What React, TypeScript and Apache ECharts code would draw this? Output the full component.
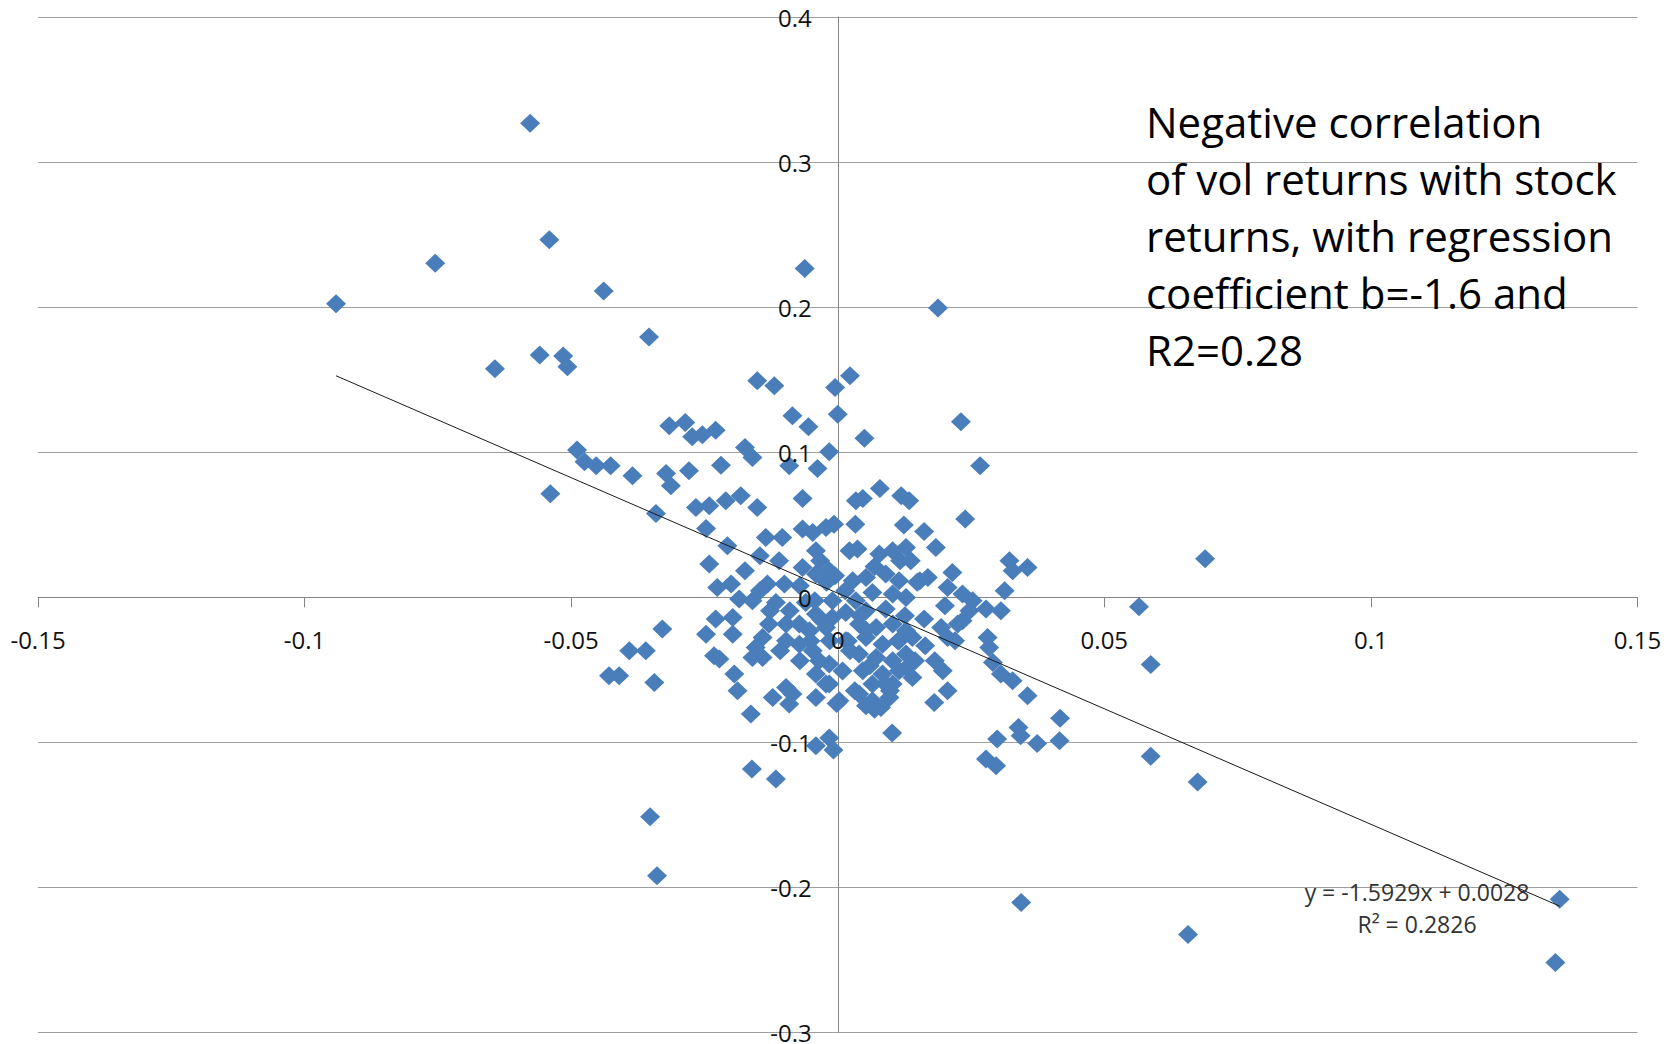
import React, { useEffect, useRef } from "react";
import * as echarts from "echarts";

// Axis ticks
const xTicks = [-0.15, -0.1, -0.05, 0, 0.05, 0.1, 0.15];
const yTicks = [-0.3, -0.2, -0.1, 0, 0.1, 0.2, 0.3, 0.4];

// Regression line (from the chart's trendline label)
const SLOPE = -1.5929;
const INTERCEPT = 0.0028;
const R2 = 0.2826;

// [stock return, vol return]
const upperOutliers: number[][] = [
  [-0.0577, 0.3267], [-0.0755, 0.2303], [-0.0941, 0.2024], [-0.0541, 0.2465],
  [-0.0439, 0.2112], [-0.0062, 0.2266], [0.0188, 0.1994], [-0.0354, 0.1795],
  [-0.0559, 0.167], [-0.0515, 0.1663], [-0.0507, 0.1589], [-0.0643, 0.1575],
];

const upperCluster: number[][] = [
  [-0.0151, 0.1492], [-0.0119, 0.1458], [-0.0005, 0.1446], [0.0023, 0.1527],
  [0.0, 0.1262], [-0.0085, 0.1251], [-0.0055, 0.1175], [0.005, 0.1097],
  [0.0231, 0.121], [0.0267, 0.0906], [-0.0016, 0.1003], [-0.0038, 0.0888],
  [-0.0091, 0.0906], [-0.0174, 0.1032], [-0.016, 0.0964], [-0.0316, 0.1182],
  [-0.0286, 0.1205], [-0.0273, 0.1106], [-0.0254, 0.112], [-0.0229, 0.1152],
  [-0.0219, 0.0911], [-0.0279, 0.0872], [-0.0322, 0.0853], [-0.0313, 0.0768],
  [-0.0385, 0.0837], [-0.0426, 0.0906], [-0.0453, 0.0906], [-0.0475, 0.0934],
  [-0.0489, 0.1015], [-0.0539, 0.0714], [-0.0341, 0.0578], [-0.0182, 0.07],
  [-0.021, 0.0665], [-0.0266, 0.0619], [-0.0241, 0.0631], [-0.0151, 0.0619],
  [-0.0066, 0.0681], [-0.0247, 0.0474], [0.0034, 0.0665], [0.0047, 0.0681],
  [0.0079, 0.075], [0.0119, 0.07], [0.0134, 0.0665], [0.0239, 0.0539],
  [0.0033, 0.0504], [0.0124, 0.0498], [0.0162, 0.0454], [-0.0007, 0.0504],
  [-0.0066, 0.047], [-0.0047, 0.0447], [-0.0022, 0.0481], [-0.0135, 0.0412],
  [-0.0104, 0.0412],
];

const coreCluster: number[][] = [
  [-0.0241, 0.0229], [-0.0207, 0.0355], [-0.0226, 0.0068], [-0.02, 0.0091],
  [-0.0185, -0.0012], [-0.016, -0.0024], [-0.0132, 0.0091], [-0.0116, -0.0036],
  [-0.01, 0.0091], [-0.011, 0.0252], [-0.0041, 0.032], [-0.0066, 0.0205],
  [-0.0041, 0.016], [-0.0016, 0.0183], [-0.006, -0.0036], [-0.0041, -0.0116],
  [-0.001, -0.0024], [-0.001, -0.0139], [-0.0022, -0.0208], [0.0022, 0.032],
  [0.0037, 0.0332], [0.0028, 0.0114], [0.0053, 0.0137], [0.0078, 0.0298],
  [0.0103, 0.032], [0.0128, 0.0343], [0.0137, 0.0252], [0.009, 0.016],
  [0.0115, 0.0114], [0.0103, 0.0022], [0.0128, -0.0001], [0.0065, 0.0033],
  [0.0034, -0.0024], [0.009, -0.0081], [0.0053, -0.0093], [0.0015, -0.0105],
  [0.004, -0.0185], [0.0072, -0.0208], [0.0103, -0.0185], [0.0128, -0.0231],
  [0.0015, -0.03], [0.0053, -0.0277], [0.0084, -0.0323], [0.0115, -0.03],
  [0.004, -0.0391], [0.0072, -0.0415], [0.0103, -0.0438], [0.0128, -0.0391],
  [0.014, -0.0277], [0.0047, -0.0507], [0.0084, -0.0529], [0.0115, -0.0507],
  [0.014, -0.0553], [0.0065, -0.0598], [0.0103, -0.0598], [0.004, -0.0667],
  [0.0065, -0.0713], [0.0097, -0.0691], [0.0003, -0.0713], [-0.0022, -0.0598],
  [-0.0041, -0.0529], [-0.0035, -0.0438], [-0.0047, -0.0369], [-0.0016, -0.046],
  [-0.0072, -0.0323], [-0.0097, -0.03], [-0.0097, -0.0185], [-0.0072, -0.0185],
  [-0.0053, -0.0231], [-0.0129, -0.0185], [-0.0141, -0.0277], [-0.0154, -0.0346],
  [-0.016, -0.0415], [-0.0141, -0.0415], [-0.0197, -0.0139], [-0.0197, -0.0254],
  [-0.0229, -0.015], [-0.0247, -0.0254], [-0.0232, -0.0403], [-0.0222, -0.0426],
  [-0.0329, -0.0219], [-0.0391, -0.0369], [-0.036, -0.0369], [-0.0429, -0.0541],
  [-0.041, -0.0541], [-0.0344, -0.0587], [-0.0194, -0.0529], [-0.0188, -0.0644],
  [-0.0122, -0.0691], [-0.0097, -0.0622], [-0.0085, -0.0667], [-0.0041, -0.0691],
  [-0.0016, -0.0598], [0.0184, 0.0343], [0.0169, 0.0137], [0.0215, 0.0171],
  [0.0206, 0.0068], [0.0234, 0.0022], [0.0253, -0.0024], [0.0247, -0.0093],
  [0.0234, -0.0162], [0.0225, -0.0185], [0.0162, -0.015], [0.0194, -0.0208],
  [0.0206, -0.0277], [0.0197, -0.0507], [0.0206, -0.0644], [0.0181, -0.0725],
  [0.0278, -0.0081], [0.0306, -0.0093], [0.0313, 0.0045], [0.0322, 0.0252],
  [0.0328, 0.0183], [0.0356, 0.0205], [0.0281, -0.0277], [0.0284, -0.0346],
  [0.0291, -0.0449], [0.0306, -0.0529], [0.0328, -0.0575], [0.0356, -0.0679],
];

const coreFill: number[][] = [
  [0.0014, 0.0045], [0.0042, -0.0128], [0.006, -0.0472], [0.0023, -0.0369],
  [-0.0015, -0.03], [-0.0043, -0.0024], [-0.0071, 0.0079], [-0.009, -0.0093],
  [0.0126, -0.0128], [0.0145, -0.0438], [0.0164, -0.0334], [0.0182, -0.0438],
  [0.0098, -0.0645], [0.0032, -0.0645], [-0.0071, -0.0438], [-0.0108, -0.0369],
  [-0.0127, -0.0093], [-0.0146, 0.0045], [-0.0174, 0.0183], [-0.0146, 0.0286],
  [-0.0033, 0.0252], [-0.0005, 0.0148], [0.0117, 0.0252], [0.0154, 0.0114],
  [0.0201, -0.0059], [0.022, -0.03],
  [-0.0031, -0.0155], [0.0019, -0.0302], [0.0009, -0.0508], [-0.0051, -0.0302],
  [0.0113, -0.0302], [0.0089, -0.0596], [0.0053, -0.0228], [0.0129, -0.0486],
  [-0.0021, 0.0103], [0.0069, 0.0213], [0.0149, 0.0103],
];

const lowerCluster: number[][] = [
  [-0.0163, -0.0805], [-0.0091, -0.0736], [-0.0002, -0.0732], [0.0053, -0.0748],
  [0.0069, -0.0771], [0.0081, -0.0759], [0.0102, -0.0936], [-0.0041, -0.1023],
  [-0.0016, -0.097], [-0.0008, -0.1053], [-0.0161, -0.1184], [-0.0116, -0.1253],
  [-0.0352, -0.1513], [-0.0339, -0.1919], [0.0299, -0.0977], [0.0278, -0.1115],
  [0.0297, -0.1161], [0.0339, -0.0897], [0.0343, -0.0955], [0.0374, -0.1008],
  [0.0416, -0.0989], [0.0417, -0.0833],
];

const rightOutliers: number[][] = [
  [0.0689, 0.0265], [0.0565, -0.0066], [0.0587, -0.0464], [0.0587, -0.1096],
  [0.0675, -0.1273], [0.0657, -0.2325], [0.0344, -0.2104], [0.1354, -0.2082],
  [0.1346, -0.2517],
];

const annotationLines = [
  "Negative correlation",
  "of vol returns with stock",
  "returns, with regression",
  "coefficient b=-1.6 and",
  "R2=0.28",
];

const FONT = "'Open Sans', 'Liberation Sans', sans-serif";

const W = 1673;
const H = 1044;
const GRID = { left: 38, right: 35.5, top: 17, bottom: 11.5 };

export default function App() {
  const ref = useRef<HTMLDivElement>(null);

  useEffect(() => {
    if (!ref.current) return;
    const chart = echarts.init(ref.current, null, { renderer: "svg" });

    const points = [
      ...upperOutliers,
      ...upperCluster,
      ...coreCluster,
      ...coreFill,
      ...lowerCluster,
      ...rightOutliers,
    ];
    const xs = points.map((p) => p[0]);
    const xMinData = Math.min(...xs);
    const xMaxData = Math.max(...xs);
    const trend = [
      [xMinData, SLOPE * xMinData + INTERCEPT],
      [xMaxData, SLOPE * xMaxData + INTERCEPT],
    ];

    const xMin = xTicks[0];
    const xMax = xTicks[xTicks.length - 1];
    const yMin = yTicks[0];
    const yMax = yTicks[yTicks.length - 1];

    // place the axes (with their labels) through the origin
    const gridW = W - GRID.left - GRID.right;
    const gridH = H - GRID.top - GRID.bottom;
    const yAxisOffset = -gridW * ((0 - xMin) / (xMax - xMin));
    const xAxisOffset = -gridH * ((0 - yMin) / (yMax - yMin));

    const fmt = (v: number) => String(Math.round(v * 100) / 100);

    const xLabel = {
      margin: 30,
      fontSize: 24,
      fontFamily: FONT,
      color: "#111",
      formatter: fmt,
    };
    const yLabel = { ...xLabel, margin: 26 };

    const xBase = {
      type: "value",
      min: xMin,
      max: xMax,
      interval: 0.05,
      position: "bottom",
      offset: xAxisOffset,
    };
    const yBase = {
      type: "value",
      min: yMin,
      max: yMax,
      interval: 0.1,
      position: "left",
      offset: yAxisOffset,
    };

    chart.setOption({
      animation: false,
      backgroundColor: "#ffffff",
      grid: {
        ...GRID,
        containLabel: false,
        outerBoundsMode: "none",
      },
      xAxis: [
        {
          ...xBase,
          axisLine: { show: true, onZero: false, lineStyle: { color: "#868686", width: 1 } },
          axisTick: { show: true, inside: false, length: 10, lineStyle: { color: "#868686" } },
          axisLabel: { show: false },
          splitLine: { show: false },
        },
        {
          // labels only, drawn above the markers
          ...xBase,
          z: 10,
          axisLine: { show: false, onZero: false },
          axisTick: { show: false },
          axisLabel: xLabel,
          splitLine: { show: false },
        },
      ],
      yAxis: [
        {
          ...yBase,
          axisLine: { show: true, onZero: false, lineStyle: { color: "#868686", width: 1 } },
          axisTick: { show: false },
          axisLabel: { show: false },
          splitLine: { show: true, lineStyle: { color: "#9f9f9f", width: 1 } },
        },
        {
          ...yBase,
          z: 10,
          axisLine: { show: false, onZero: false },
          axisTick: { show: false },
          axisLabel: yLabel,
          splitLine: { show: false },
        },
      ],
      series: [
        {
          type: "scatter",
          xAxisIndex: 0,
          yAxisIndex: 0,
          data: points,
          symbol: "diamond",
          symbolSize: [20, 19],
          itemStyle: { color: "#4a7ebb", opacity: 1 },
          z: 2,
        },
        {
          type: "line",
          xAxisIndex: 0,
          yAxisIndex: 0,
          data: trend,
          symbol: "none",
          lineStyle: { color: "#1a1a1a", width: 1 },
          z: 3,
        },
      ],
      graphic: [
        {
          type: "text",
          left: 1146,
          top: 93,
          style: {
            text: annotationLines.join("\n"),
            fontSize: 42,
            fontFamily: FONT,
            lineHeight: 57,
            fill: "#000",
          },
          z: 10,
        },
        {
          type: "text",
          x: 1417,
          y: 892,
          style: {
            text: `y = ${SLOPE}x + ${INTERCEPT.toFixed(4)}`,
            align: "center",
            verticalAlign: "middle",
            fontSize: 23,
            fontFamily: FONT,
            fill: "#333",
          },
          z: 10,
        },
        {
          type: "text",
          x: 1417,
          y: 924,
          style: {
            text: `R² = ${R2}`,
            align: "center",
            verticalAlign: "middle",
            fontSize: 23,
            fontFamily: FONT,
            fill: "#333",
          },
          z: 10,
        },
      ],
    });

    return () => chart.dispose();
  }, []);

  return (
    <div
      ref={ref}
      style={{
        position: "absolute",
        left: 0,
        top: 0,
        width: W,
        height: H,
        background: "#fff",
      }}
    />
  );
}
